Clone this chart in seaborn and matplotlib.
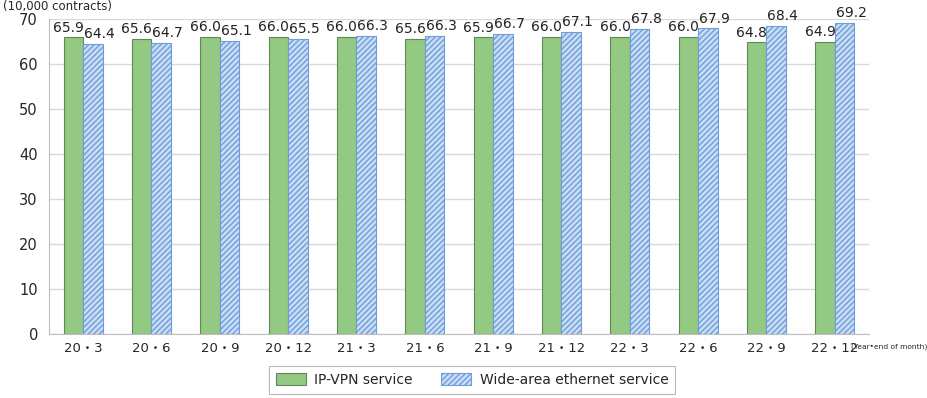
import numpy as np
import pandas as pd
import seaborn as sns
import matplotlib.pyplot as plt
from matplotlib.ticker import FixedLocator

periods = ["20・3", "20・6", "20・9", "20・12", "21・3", "21・6",
           "21・9", "21・12", "22・3", "22・6", "22・9", "22・12"]
ip_vpn = [65.9, 65.6, 66.0, 66.0, 66.0, 65.6, 65.9, 66.0, 66.0, 66.0, 64.8, 64.9]
ethernet = [64.4, 64.7, 65.1, 65.5, 66.3, 66.3, 66.7, 67.1, 67.8, 67.9, 68.4, 69.2]
series_names = ["IP-VPN service", "Wide-area ethernet service"]

df = pd.DataFrame({
    "period": periods * 2,
    "value": ip_vpn + ethernet,
    "service": [series_names[0]] * len(periods) + [series_names[1]] * len(periods),
})

sns.set_style("white")
plt.rcParams["font.family"] = ["DejaVu Sans", "Noto Sans CJK JP"]

fig = plt.figure(figsize=(9.28, 3.98), dpi=100)
ax = fig.add_axes([49 / 928, 64 / 398, 820 / 928, 315 / 398])

green = "#93c982"
green_edge = "#5f8a55"
blue_face = "#c9ddf4"
blue_hatch = "#6f9ddb"

sns.barplot(data=df, x="period", y="value", hue="service", order=periods,
            palette=[green, blue_face], width=0.57, saturation=1, ax=ax)

for bar in ax.containers[0]:
    bar.set_edgecolor(green_edge)
    bar.set_linewidth(0.8)
for bar in ax.containers[1]:
    bar.set_edgecolor(blue_hatch)
    bar.set_hatch("//////")
    bar.set_linewidth(0.8)

# value labels: IP-VPN right-aligned to its bar, ethernet left-aligned to its bar
for bar, v in zip(ax.containers[0], ip_vpn):
    ax.annotate(f"{v:.1f}", (bar.get_x() + bar.get_width() + 0.01, bar.get_height()),
                xytext=(0, 2), textcoords="offset points", ha="right", va="bottom",
                fontsize=10, color="#222222")
for bar, v in zip(ax.containers[1], ethernet):
    ax.annotate(f"{v:.1f}", (bar.get_x() + 0.01, bar.get_height()),
                xytext=(0, 2), textcoords="offset points", ha="left", va="bottom",
                fontsize=10, color="#222222")

ax.set_xlim(-0.5, len(periods) - 0.5)
ax.set_ylim(0, 70)
ax.set_yticks(range(0, 71, 10))
ax.yaxis.grid(True, color="#d9d9d9", linewidth=1)
ax.set_axisbelow(True)
ax.set_xlabel("")
ax.set_ylabel("")
for s in ["top", "right"]:
    ax.spines[s].set_visible(False)
for s in ["left", "bottom"]:
    ax.spines[s].set_color("#bfbfbf")
ax.tick_params(axis="x", which="major", length=0, labelsize=9.5, pad=6)
ax.tick_params(axis="y", length=0, labelsize=10.5, pad=8)
ax.xaxis.set_minor_locator(FixedLocator(np.arange(-0.5, len(periods), 1.0)))
ax.tick_params(axis="x", which="minor", length=5, color="#bfbfbf", direction="out")

fig.text(0.003, 0.983, "(10,000 contracts)", fontsize=8.5, ha="left", va="center")
fig.text(0.9995, 0.128, "(Year•end of month)", fontsize=5.4, ha="right", va="center",
         family=["DejaVu Sans Condensed", "Liberation Sans Narrow", "DejaVu Sans"])

handles, labels = ax.get_legend_handles_labels()
ax.get_legend().remove()
handles[0].set_edgecolor(green_edge)
handles[0].set_linewidth(0.8)
handles[1].set_edgecolor(blue_hatch)
handles[1].set_hatch("//////")
handles[1].set_linewidth(0.8)
leg = fig.legend(handles, labels, loc="center", bbox_to_anchor=(472 / 928, 0.046), ncol=2,
                 frameon=True, fancybox=False, fontsize=10, edgecolor="#a6a6a6",
                 handlelength=2.2, handleheight=0.9, columnspacing=2.0,
                 borderpad=0.5, borderaxespad=0, handletextpad=0.6)
leg.get_frame().set_linewidth(0.8)

fig.savefig("out.png", dpi=100)
